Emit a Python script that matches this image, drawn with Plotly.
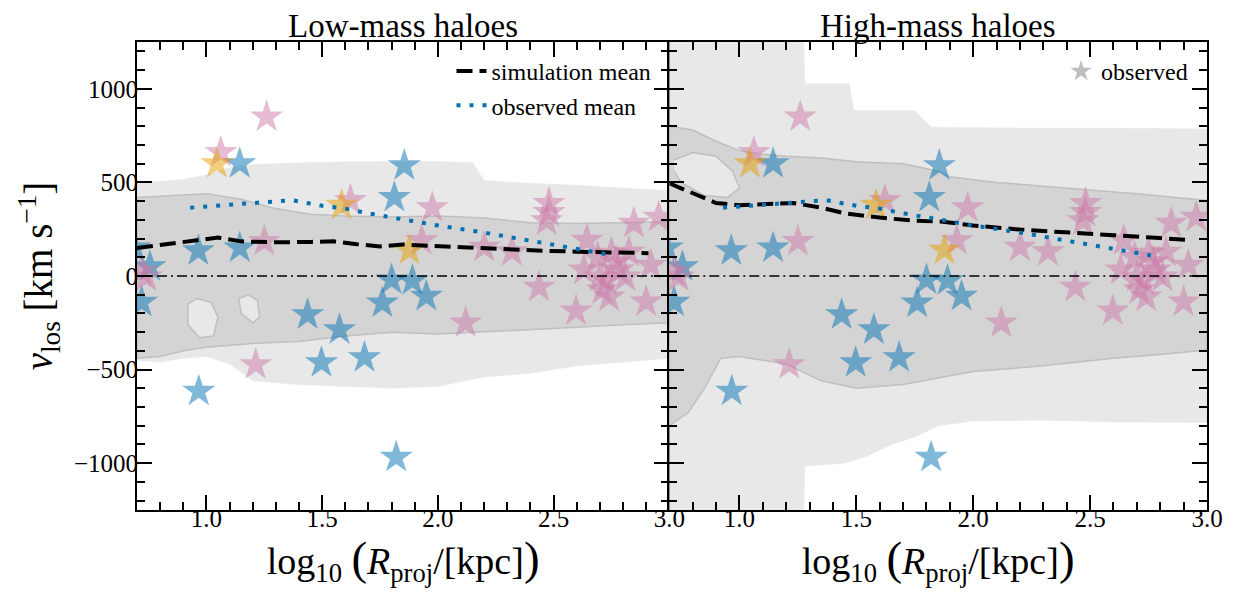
import plotly.graph_objects as go

# ---------------- observed satellites (log10 R_proj [kpc], v_los [km/s]) ----------------
blue_x = [0.69, 0.756, 0.72, 0.965, 0.967, 1.144, 1.144, 1.437, 1.575, 1.497, 1.683,
          1.76, 1.80, 1.82, 1.812, 1.855, 1.89, 1.95]
blue_v = [150, 50, -140, 135, -615, 600, 150, -207, -287, -463, -436,
          -144, -21, -968, 420, 590, -25, -108]

pink_x = [0.74, 0.72, 1.062, 1.26, 1.25, 1.213, 1.622, 1.976, 1.93, 2.12, 2.2, 2.32,
          2.437, 2.48, 2.48, 2.47, 2.597, 2.644, 2.631, 2.69, 2.70, 2.73, 2.78, 2.81,
          2.71, 2.74, 2.75, 2.825, 2.847, 2.954, 2.92, 2.90, 2.77]
pink_v = [-5, 25, 660, 850, 185, -473, 404, 365, 190, -250, 154, 130,
          -59, 388, 340, 295, -186, 191, 32, 100, -5, -25, 32, -5,
          -74, -112, 122, 128, 282, 314, 58, -138, 75]

orange_x = [1.045, 1.584, 1.877]
orange_v = [600, 378, 138]

# ---------------- mean curves ----------------
sim_low_x = [0.7, 0.85, 1.0, 1.05, 1.15, 1.3, 1.45, 1.55, 1.65, 1.75, 1.85, 2.0, 2.15,
             2.3, 2.45, 2.6, 2.75, 2.91]
sim_low_v = [150, 175, 195, 205, 185, 180, 182, 185, 170, 158, 168, 160, 150,
             140, 135, 130, 128, 122]

sim_high_x = [0.7, 0.8, 0.9, 1.0, 1.1, 1.23, 1.35, 1.45, 1.6, 1.75, 1.87, 2.0, 2.2,
              2.4, 2.6, 2.8, 2.93]
sim_high_v = [495, 440, 390, 378, 383, 390, 365, 335, 312, 295, 290, 270, 248,
              235, 218, 203, 191]

obs_mean_x = [0.93, 1.1, 1.25, 1.37, 1.5, 1.6, 1.7, 1.83, 2.0, 2.2, 2.4, 2.6, 2.76]
obs_mean_v = [365, 380, 395, 405, 375, 360, 335, 305, 270, 232, 188, 145, 110]

zero_x = [0.7, 3.0]
zero_v = [0, 0]

# ---------------- simulation density contours (outer = light, inner = dark) ----------------
low_light_up_x = [0.7, 0.8, 0.9, 1.0, 1.1, 1.2, 1.4, 1.6, 1.8, 2.0, 2.15, 2.2, 2.4, 2.6, 2.8, 3.0]
low_light_up_v = [495, 505, 515, 540, 580, 595, 605, 610, 612, 612, 605, 510, 495, 485, 470, 455]
low_light_lo_x = [0.7, 0.8, 0.9, 1.0, 1.1, 1.2, 1.4, 1.6, 1.8, 2.0, 2.2, 2.4, 2.6, 2.8, 3.0]
low_light_lo_v = [-450, -460, -440, -430, -470, -560, -580, -590, -600, -590, -540, -520, -480, -460, -440]

low_dark_up_x = [0.7, 0.85, 1.0, 1.15, 1.3, 1.45, 1.6, 1.8, 2.0, 2.2, 2.4, 2.6, 2.8, 3.0]
low_dark_up_v = [420, 430, 440, 410, 360, 330, 320, 315, 320, 310, 285, 280, 285, 290]
low_dark_lo_x = [0.7, 0.8, 0.9, 1.0, 1.2, 1.4, 1.6, 1.8, 2.0, 2.2, 2.5, 2.8, 3.0]
low_dark_lo_v = [-440, -430, -400, -380, -360, -350, -320, -300, -310, -300, -280, -260, -250]

# light patches inside the dark region of the low-mass panel
low_hole1_x = [0.92, 0.96, 1.02, 1.05, 1.03, 0.97, 0.92, 0.92]
low_hole1_v = [-150, -120, -140, -220, -320, -330, -260, -150]
low_hole2_x = [1.14, 1.18, 1.22, 1.23, 1.20, 1.15, 1.14]
low_hole2_v = [-120, -100, -130, -220, -250, -200, -120]

high_light_up_x = [0.7, 1.275, 1.28, 1.47, 1.49, 1.75, 1.82, 2.2, 2.6, 3.0]
high_light_up_v = [1250, 1250, 1027, 1027, 883, 883, 795, 790, 790, 785]
high_light_lo_x = [0.7, 1.275, 1.28, 1.45, 1.55, 1.65, 1.75, 1.85, 2.0, 2.3, 2.6, 3.0]
high_light_lo_v = [-1250, -1250, -1016, -1000, -960, -900, -860, -800, -775, -770, -780, -782]

high_dark_up_x = [0.7, 0.8, 0.9, 1.0, 1.1, 1.2, 1.35, 1.5, 1.7, 1.85, 1.9, 2.1, 2.3, 2.5, 2.7, 2.9, 3.0]
high_dark_up_v = [800, 780, 720, 670, 650, 640, 630, 610, 600, 560, 530, 500, 480, 460, 440, 415, 405]
high_dark_lo_x = [0.7, 0.78, 0.85, 0.92, 1.0, 1.2, 1.35, 1.5, 1.7, 1.87, 2.0, 2.3, 2.6, 2.8, 3.0]
high_dark_lo_v = [-800, -730, -600, -440, -430, -470, -560, -600, -580, -540, -510, -480, -440, -420, -395]

# light patch inside the dark region of the high-mass panel
high_hole_x = [0.72, 0.8, 0.9, 0.97, 1.0, 0.95, 0.85, 0.75, 0.72]
high_hole_v = [620, 660, 640, 560, 470, 420, 430, 500, 560]

LIGHT = "#e8e8e8"
DARK = "#d4d4d4"
EDGE = "#bfbfbf"
BLUE = "rgba(0,114,178,0.5)"
PINK = "rgba(204,121,167,0.5)"
ORANGE = "rgba(230,159,0,0.5)"
FONT = "Liberation Serif"

fig = go.Figure()


def poly(up_x, up_v, lo_x, lo_v):
    return list(up_x) + list(lo_x)[::-1] + [up_x[0]], list(up_v) + list(lo_v)[::-1] + [up_v[0]]


panels = [
    ("x", "y", (low_light_up_x, low_light_up_v, low_light_lo_x, low_light_lo_v),
     (low_dark_up_x, low_dark_up_v, low_dark_lo_x, low_dark_lo_v),
     [(low_hole1_x, low_hole1_v), (low_hole2_x, low_hole2_v)], sim_low_x, sim_low_v),
    ("x2", "y2", (high_light_up_x, high_light_up_v, high_light_lo_x, high_light_lo_v),
     (high_dark_up_x, high_dark_up_v, high_dark_lo_x, high_dark_lo_v),
     [(high_hole_x, high_hole_v)], sim_high_x, sim_high_v),
]

for i, (xa, ya, light, dark, holes, sx, sv) in enumerate(panels):
    px, py = poly(*light)
    fig.add_trace(go.Scatter(x=px, y=py, xaxis=xa, yaxis=ya, mode="lines", fill="toself",
                             fillcolor=LIGHT, line=dict(color=LIGHT, width=0.5),
                             showlegend=False, hoverinfo="skip"))
    px, py = poly(*dark)
    fig.add_trace(go.Scatter(x=px, y=py, xaxis=xa, yaxis=ya, mode="lines", fill="toself",
                             fillcolor=DARK, line=dict(color=EDGE, width=1.5),
                             showlegend=False, hoverinfo="skip"))
    for hx, hv in holes:
        fig.add_trace(go.Scatter(x=hx, y=hv, xaxis=xa, yaxis=ya, mode="lines",
                                 fill="toself", fillcolor=LIGHT, line=dict(color=EDGE, width=1.5),
                                 showlegend=False, hoverinfo="skip"))
    for cx, cv, col in [(blue_x, blue_v, BLUE), (pink_x, pink_v, PINK), (orange_x, orange_v, ORANGE)]:
        fig.add_trace(go.Scatter(x=cx, y=cv, xaxis=xa, yaxis=ya, mode="markers",
                                 marker=dict(symbol="star", size=25, color=col,
                                             line=dict(width=0)),
                                 showlegend=False))
    fig.add_trace(go.Scatter(x=zero_x, y=zero_v, xaxis=xa, yaxis=ya, mode="lines",
                             line=dict(color="black", width=1.5, dash="10px,4px,2px,4px"),
                             showlegend=False, hoverinfo="skip"))
    fig.add_trace(go.Scatter(x=sx, y=sv, xaxis=xa, yaxis=ya, mode="lines",
                             line=dict(color="black", width=4, dash="16px,7px"),
                             name="simulation mean", legendgroup="a",
                             showlegend=(i == 0)))
    fig.add_trace(go.Scatter(x=obs_mean_x, y=obs_mean_v, xaxis=xa, yaxis=ya, mode="lines",
                             line=dict(color="#0072B2", width=4, dash="4px,9px"),
                             name="observed mean", legendgroup="b",
                             showlegend=(i == 0)))

# legend entry for the high-mass panel
fig.add_trace(go.Scatter(x=[None], y=[None], xaxis="x2", yaxis="y2", mode="markers",
                         marker=dict(symbol="star", size=25, color="rgba(128,128,128,0.5)"),
                         name="observed", legend="legend2"))

D = 0.4975
XTITLE = ("log<sub>10</sub> <span style='font-size:47px'>(</span><i>R</i><sub>proj</sub>/[kpc]"
          "<span style='font-size:47px'>)</span>")
common_x = dict(range=[0.7, 3.0], tickvals=[1.0, 1.5, 2.0, 2.5, 3.0],
                ticktext=["1.0", "1.5", "2.0", "2.5", "3.0"],
                ticks="inside", ticklen=15, tickwidth=2, tickcolor="black",
                minor=dict(ticks="inside", dtick=0.1, tick0=0, ticklen=8, tickwidth=2, tickcolor="black"),
                showline=True, linecolor="black", linewidth=2, mirror="allticks",
                showgrid=False, zeroline=False, automargin=False, ticklabelstandoff=-15,
                tickfont=dict(size=25, family=FONT, color="black"),
                title=dict(text=XTITLE, font=dict(size=38, family=FONT, color="black"), standoff=2))
common_y = dict(range=[-1250, 1250], tickvals=[-1000, -500, 0, 500, 1000],
                ticks="inside", ticklen=15, tickwidth=2, tickcolor="black",
                minor=dict(ticks="inside", dtick=100, tick0=0, ticklen=8, tickwidth=2, tickcolor="black"),
                showline=True, linecolor="black", linewidth=2, mirror="allticks",
                showgrid=False, zeroline=False, automargin=False,
                tickfont=dict(size=25, family=FONT, color="black"))

fig.update_layout(
    width=1238, height=602,
    margin=dict(l=129, r=39, t=34, b=100),
    plot_bgcolor="white", paper_bgcolor="white",
    font=dict(family=FONT, color="black"),
    xaxis=dict(domain=[0, D], anchor="y", **common_x),
    xaxis2=dict(domain=[D, 1], anchor="y2", **common_x),
    yaxis=dict(anchor="x", ticklabelstandoff=-8,
               title=dict(text="<i>v</i><sub>los</sub> [km s<sup>−1</sup>]",
                          font=dict(size=39, family=FONT, color="black"), standoff=9),
               **common_y),
    yaxis2=dict(anchor="x2", matches="y", showticklabels=False, **common_y),
    legend=dict(x=D - 0.012, xanchor="right", y=0.985, yanchor="top",
                font=dict(size=24, family=FONT, color="black"), bgcolor="rgba(0,0,0,0)",
                tracegroupgap=0),
    legend2=dict(x=0.987, xanchor="right", y=0.985, yanchor="top",
                 font=dict(size=24, family=FONT, color="black"), bgcolor="rgba(0,0,0,0)"),
    annotations=[
        dict(text="Low-mass haloes", x=D / 2, y=1, xref="paper", yref="paper",
             xanchor="center", yanchor="bottom", yshift=-3, borderpad=0, showarrow=False,
             font=dict(size=33, family=FONT, color="black")),
        dict(text="High-mass haloes", x=(1 + D) / 2, y=1, xref="paper", yref="paper",
             xanchor="center", yanchor="bottom", yshift=-3, borderpad=0, showarrow=False,
             font=dict(size=33, family=FONT, color="black")),
    ],
)

fig.write_html("out.html")
